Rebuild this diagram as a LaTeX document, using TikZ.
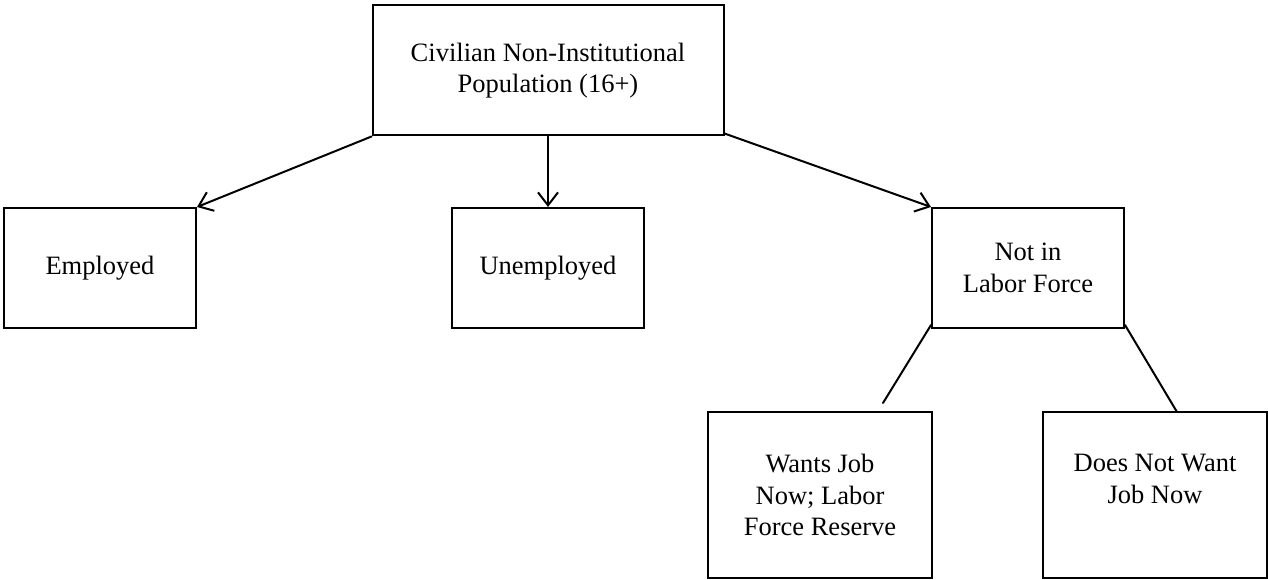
\documentclass[tikz,border=0pt]{standalone}
\usepackage{fontspec}
\setmainfont{Liberation Serif}
\usetikzlibrary{arrows.meta}
\begin{document}
\begin{tikzpicture}[x=1pt,y=-1pt,
  box/.style={draw=black,line width=2pt,rectangle,inner sep=0pt,align=center,
    font=\fontsize{26.5}{31.7}\selectfont},
  midbox/.style={box,minimum width=192pt,minimum height=120pt},
  lowbox/.style={box,minimum width=224pt,minimum height=166pt},
  conn/.style={line width=2pt,line cap=round},
  arr/.style={conn,-{Straight Barb[length=13pt,width=20pt,line width=2pt]}}]
\useasboundingbox (0,0) rectangle (1268,580);
\node[box,minimum width=351pt,minimum height=130pt] (top) at (548,70.5)
  {Civilian Non-Institutional\\Population (16+)};
\node[midbox] (emp) at (100,268) {Employed};
\node[midbox] (unemp) at (548,268) {Unemployed};
\node[midbox] (nilf) at (1028,268) {Not in\\Labor Force};
\node[lowbox] (wants) at (820,495) {Wants Job\\Now; Labor\\Force Reserve};
\node[lowbox] (dnw) at (1155,495) {Does Not Want\\Job Now\\\phantom{X}};
\coordinate (c1) at (883,403);
\coordinate (c2) at (1177,412);
\draw[arr] (top.south west) -- (emp.north east);
\draw[arr] (top.south) -- (unemp.north);
\draw[arr] ([yshift=3pt]top.south east) -- (nilf.north west);
\draw[conn] ([yshift=4pt]nilf.south west) -- (c1);
\draw[conn] ([yshift=4pt]nilf.south east) -- (c2);
\end{tikzpicture}
\end{document}
